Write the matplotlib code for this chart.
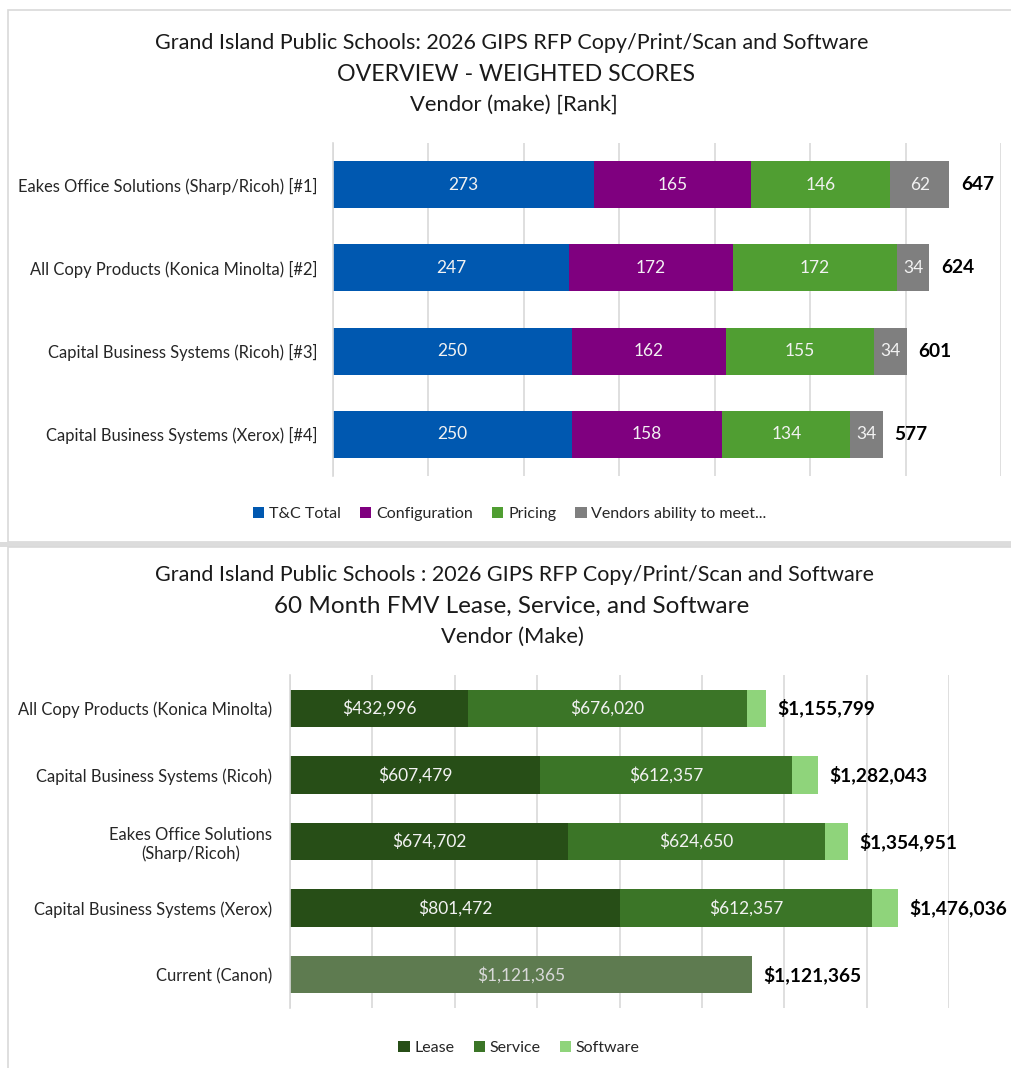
import numpy as np
import matplotlib.pyplot as plt
from matplotlib.patches import Rectangle

plt.rcParams['font.family'] = ['Lato', 'DejaVu Sans']

# --- data, top chart (weighted scores) ---
vendors_top = ['Eakes Office Solutions (Sharp/Ricoh) [#1]',
               'All Copy Products (Konica Minolta) [#2]',
               'Capital Business Systems (Ricoh) [#3]',
               'Capital Business Systems (Xerox) [#4]']
tc_total = [273, 247, 250, 250]
configuration = [165, 172, 162, 158]
pricing = [146, 172, 155, 134]
ability = [62, 34, 34, 34]
score_totals = [647, 624, 601, 577]

# --- data, bottom chart (60 month cost) ---
vendors_bot = ['All Copy Products (Konica Minolta)',
               'Capital Business Systems (Ricoh)',
               'Eakes Office Solutions\n(Sharp/Ricoh)',
               'Capital Business Systems (Xerox)',
               'Current (Canon)']
lease = [432996, 607479, 674702, 801472]
service = [676020, 612357, 624650, 612357]
software = [46783, 62207, 55599, 62207]
current = [1121365]
cost_totals = [1155799, 1282043, 1354951, 1476036, 1121365]

W, H = 1012, 1068
fig = plt.figure(figsize=(W / 100, H / 100), dpi=100)

def px_axes(l, t, r, b):
    return fig.add_axes([l / W, 1 - b / H, (r - l) / W, (b - t) / H])

# panel frames
grey = '#D9D9D9'
fig.patches.append(Rectangle((8 / W, 1 - 542 / H), 1.2, (542 - 10) / H, transform=fig.transFigure,
                             fill=False, edgecolor=grey, lw=1.2))
fig.patches.append(Rectangle((0, 1 - 547 / H), 1, 5 / H, transform=fig.transFigure,
                             facecolor='#DCDCDC', edgecolor='none'))
fig.patches.append(Rectangle((8 / W, -0.1), 1.2, 0.1 + (1068 - 547) / H, transform=fig.transFigure,
                             fill=False, edgecolor=grey, lw=1.2))

def style_axes(ax, pad):
    for s in ['top', 'right', 'bottom']:
        ax.spines[s].set_visible(False)
    ax.spines['left'].set_color(grey)
    ax.spines['left'].set_linewidth(1.2)
    ax.tick_params(left=False, bottom=False, labelbottom=False, labelsize=11.9, pad=pad)
    ax.xaxis.grid(True, color=grey, lw=1.2)
    ax.set_axisbelow(True)

# ---------------- top chart ----------------
ax1 = px_axes(333, 143, 1001, 476)
y = np.arange(len(vendors_top))
segs = [(tc_total, '#0058B0', 'T&C Total'),
        (configuration, '#7F007F', 'Configuration'),
        (pricing, '#509E32', 'Pricing'),
        (ability, '#7F7F7F', 'Vendors ability to meet...')]
left = np.zeros(len(y))
for vals, col, name in segs:
    bars = ax1.barh(y, vals, left=left, height=0.565, color=col, label=name)
    ax1.bar_label(bars, labels=[str(v) for v in vals], label_type='center',
                  color='#F2F2F2', fontsize=12.5)
    left += np.array(vals)
for i, t in enumerate(score_totals):
    ax1.text(left[i] + 12, y[i], str(t), va='center', ha='left',
             fontsize=13.8, fontweight='bold', color='black')
ax1.set_xlim(0, 700)
ax1.set_xticks(np.arange(0, 701, 100))
ax1.set_ylim(len(y) - 0.5, -0.5)
ax1.set_yticks(y)
ax1.set_yticklabels(vendors_top, color='#262626')
style_axes(ax1, 7.3)

fig.text(512 / W, 1 - 43 / H, 'Grand Island Public Schools: 2026 GIPS RFP Copy/Print/Scan and Software',
         ha='center', va='center', fontsize=15.5, color='#1a1a1a')
fig.text(516 / W, 1 - 74 / H, 'OVERVIEW - WEIGHTED SCORES',
         ha='center', va='center', fontsize=16.7, color='#1a1a1a')
fig.text(514 / W, 1 - 105 / H, 'Vendor (make) [Rank]',
         ha='center', va='center', fontsize=15.8, color='#1a1a1a')

h1, l1 = ax1.get_legend_handles_labels()
fig.legend(h1, l1, loc='center', bbox_to_anchor=(510 / W, 1 - 514 / H), ncol=4,
           frameon=False, fontsize=11.5, handlelength=0.7, handleheight=0.7,
           handletextpad=0.3, columnspacing=1.2, labelcolor='#262626')

# ---------------- bottom chart ----------------
ax2 = px_axes(290, 675, 949, 1008)
y2 = np.arange(len(vendors_bot))
yv = y2[:len(lease)]
money = lambda v: '${:,.0f}'.format(v)
b_lease = ax2.barh(yv, lease, height=0.56, color='#274E17', label='Lease')
ax2.bar_label(b_lease, labels=[money(v) for v in lease], label_type='center',
              color='#F2F2F2', fontsize=12.5)
b_serv = ax2.barh(yv, service, left=lease, height=0.56, color='#3B7527', label='Service')
ax2.bar_label(b_serv, labels=[money(v) for v in service], label_type='center',
              color='#F2F2F2', fontsize=12.5)
ax2.barh(yv, software, left=np.array(lease) + np.array(service), height=0.56,
         color='#8FD47B', label='Software')
b_cur = ax2.barh([y2[-1]], current, height=0.56, color='#5E7B50')
ax2.bar_label(b_cur, labels=[money(v) for v in current], label_type='center',
              color='#D9D9D9', fontsize=12.5)
for i, t in enumerate(cost_totals):
    ax2.text(t + 28000, y2[i], money(t), va='center', ha='left',
             fontsize=13.8, fontweight='bold', color='black')
ax2.set_xlim(0, 1600000)
ax2.set_xticks(np.arange(0, 1600001, 200000))
ax2.set_ylim(len(y2) - 0.5, -0.5)
ax2.set_yticks(y2)
ax2.set_yticklabels(vendors_bot, color='#262626', ha='right', multialignment='center')
style_axes(ax2, 9.5)

fig.text(515 / W, 1 - 575 / H, 'Grand Island Public Schools : 2026 GIPS RFP Copy/Print/Scan and Software',
         ha='center', va='center', fontsize=15.5, color='#1a1a1a')
fig.text(512 / W, 1 - 606 / H, '60 Month FMV Lease, Service, and Software',
         ha='center', va='center', fontsize=17.5, color='#1a1a1a')
fig.text(512 / W, 1 - 637 / H, 'Vendor (Make)',
         ha='center', va='center', fontsize=15.8, color='#1a1a1a')

h2, l2 = ax2.get_legend_handles_labels()
fig.legend(h2, l2, loc='center', bbox_to_anchor=(519 / W, 1 - 1048 / H), ncol=3,
           frameon=False, fontsize=11.5, handlelength=0.7, handleheight=0.7,
           handletextpad=0.3, columnspacing=1.2, labelcolor='#262626')

fig.savefig('out.png', dpi=100, facecolor='white')
